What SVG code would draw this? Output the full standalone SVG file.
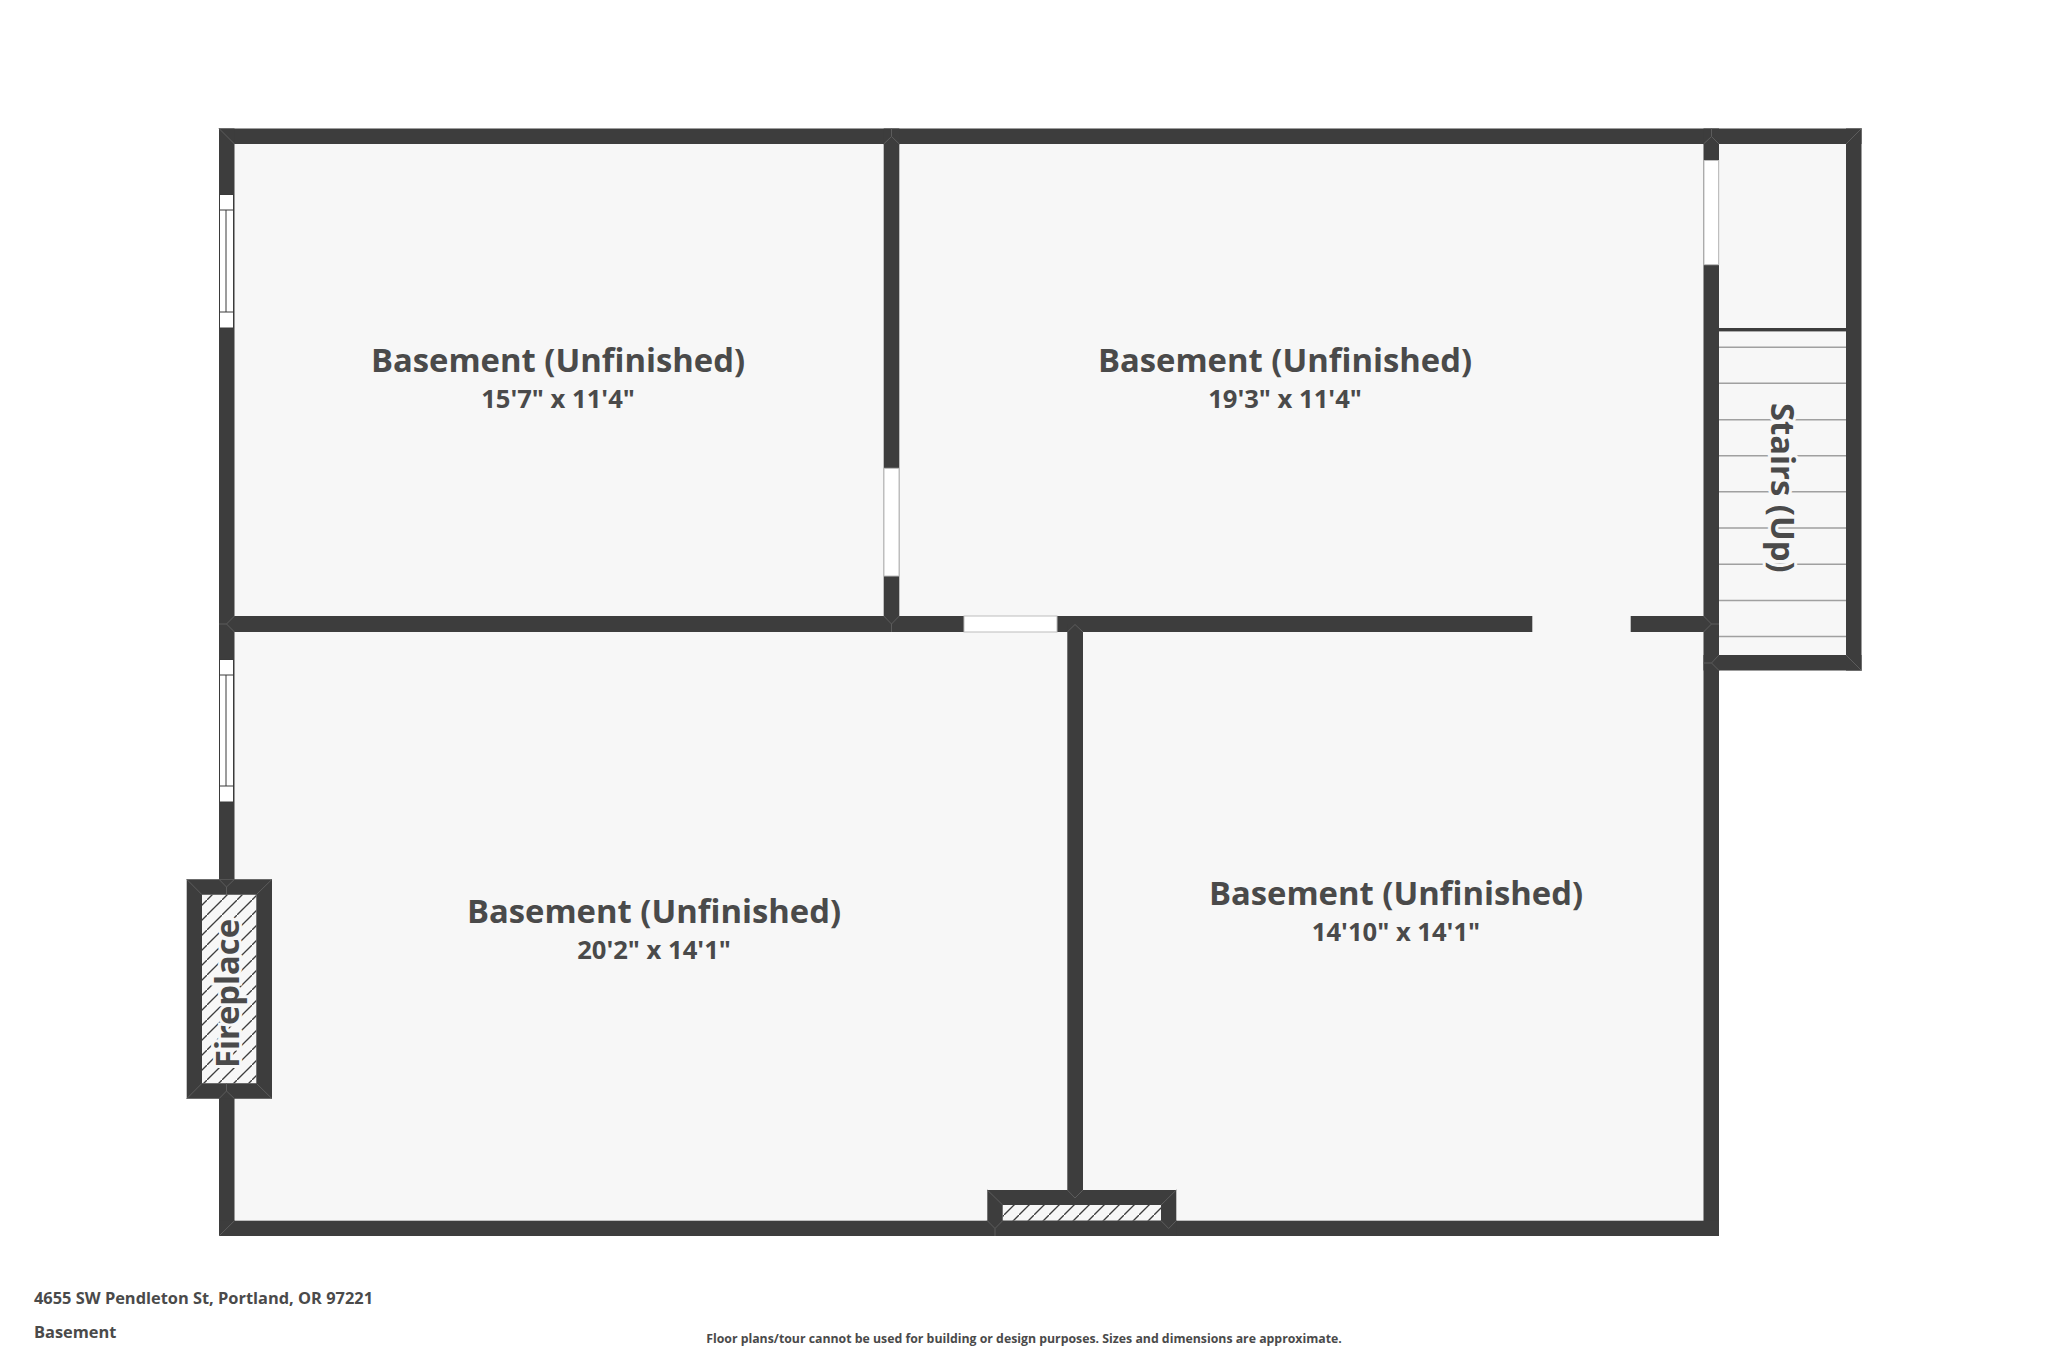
<svg xmlns="http://www.w3.org/2000/svg" width="2048" height="1365" viewBox="0 0 2048 1365">
<defs>
<pattern id="hatch" patternUnits="userSpaceOnUse" width="15" height="15" patternTransform="translate(-3 0)">
<rect width="15" height="15" fill="#f7f7f7"/>
<path d="M-2 17L17 -2" stroke="#3d3d3d" stroke-width="1.3"/>
</pattern>
<pattern id="hatch2" patternUnits="userSpaceOnUse" width="15" height="15" patternTransform="translate(-1 0)">
<rect width="15" height="15" fill="#f7f7f7"/>
<path d="M-2 17L17 -2" stroke="#3d3d3d" stroke-width="1.3"/>
</pattern>
</defs>
<style>
.wall{fill:#3d3d3d}
.seam{fill:none;stroke:#5c5c5c;stroke-width:1}
.tread{stroke:#a0a0a0;stroke-width:1.4}
.glass{fill:#fff;stroke:#bdbdbd;stroke-width:1}
.frame{fill:#fff;stroke:#3a3a3a;stroke-width:1}
text{font-family:"Open Sans","Noto Sans","Liberation Sans",sans-serif;fill:#4a4a4a;font-weight:700}
.title{font-size:32.800px;text-anchor:middle;paint-order:stroke;stroke:#f7f7f7;stroke-width:6px}
.dim{font-size:25.600px;text-anchor:middle;paint-order:stroke;stroke:#f7f7f7;stroke-width:6px}
.foot{font-size:16.400px}
.note{font-size:12.300px;text-anchor:middle}
</style>
<rect width="2048" height="1365" fill="#fff"/>
<path id="floor" d="M234 144H1846V655H1719V1221H234Z" fill="#f7f7f7"/>
<rect x="202" y="894.700" width="54.300" height="188.600" fill="url(#hatch)"/>
<rect x="1002.700" y="1205" width="158.300" height="15.700" fill="url(#hatch2)"/>
<g id="treads">
<path class="tread" d="M1719 347.300H1846M1719 383.300H1846M1719 419.700H1846M1719 455.700H1846M1719 491.700H1846M1719 528H1846M1719 564.300H1846M1719 600.500H1846M1719 636.500H1846"/>
<rect x="1719" y="328" width="127" height="3.400" fill="#3d3d3d"/>
</g>
<g id="walls">
<rect class="wall" x="219" y="128.500" width="1642.500" height="15.500"/>
<rect class="wall" x="1846" y="128.500" width="15.500" height="542"/>
<rect class="wall" x="1703.500" y="655" width="158" height="15.500"/>
<rect class="wall" x="1703.500" y="128.500" width="15.500" height="1107.500"/>
<rect class="wall" x="219" y="128.500" width="15.500" height="751"/>
<rect class="wall" x="219" y="1098" width="15.500" height="138"/>
<rect class="wall" x="219" y="1220.700" width="1500" height="15.300"/>
<rect class="wall" x="883.700" y="128.500" width="15.600" height="503.500"/>
<rect class="wall" x="219" y="616" width="1313.300" height="16"/>
<rect class="wall" x="1630.700" y="616" width="88" height="16"/>
<rect class="wall" x="1067.300" y="624" width="15.700" height="570"/>
<path class="wall" d="M186.700 879.300H272V1098.700H186.700ZM202 894.700V1083.300H256.300V894.700Z" fill-rule="evenodd"/>
<path class="wall" d="M987.300 1190H1176.300V1236H987.300ZM1002.700 1205V1220.700H1161V1205Z" fill-rule="evenodd"/>
</g>
<g id="seams">
<path class="seam" d="M219 128.500L234.500 144M1861.500 128.500L1846 144M1861.500 670.500L1846 655"/>
<path class="seam" d="M891.500 128.500V136.500M891.500 136.500L883.700 144M891.500 136.500L899.300 144"/>
<path class="seam" d="M1711.500 128.500V136.500M1711.500 136.500L1703.500 144M1711.500 136.500L1719 144"/>
<path class="seam" d="M219 624H226.500M226.500 624L234.500 616M226.500 624L234.500 632"/>
<path class="seam" d="M1719 624H1711.500M1711.500 624L1703.500 616M1711.500 624L1703.500 632"/>
<path class="seam" d="M1703.500 663H1711.500M1711.500 663L1719 655M1711.500 663L1719 670.500"/>
<path class="seam" d="M891.500 632V624M891.500 624L883.700 616M891.500 624L899.300 616"/>
<path class="seam" d="M1075 624.500L1067.300 632M1075 624.500L1083 632"/>
<path class="seam" d="M219 1236L234.500 1220.700"/>
<path class="seam" d="M1067.300 1190L1075 1198L1083 1190"/>
<path class="seam" d="M987.300 1190L1002.700 1205M1176.300 1190L1161 1205M995 1236V1228.500L987.300 1220.700M995 1228.500L1002.700 1220.700M1168.700 1228.500L1161 1220.700M1168.700 1228.500L1176.300 1220.700"/>
<path class="seam" d="M186.700 879.300L202 894.700M272 879.300L256.300 894.700M186.700 1098.700L202 1083.300M272 1098.700L256.300 1083.300"/>
<path class="seam" d="M226.500 894.700V887L219 879.300M226.500 887L234.500 879.300M226.500 1083.300V1091L219 1098.700M226.500 1091L234.500 1098.700"/>
</g>
<g id="openings">
<rect x="964" y="616" width="93" height="16" class="glass"/>
<rect x="884" y="468.300" width="15" height="107.700" class="glass"/>
<rect x="1704" y="160.500" width="14.700" height="104.200" class="glass"/>
</g>
<g id="window-1">
<rect class="frame" x="219.500" y="194.500" width="14" height="133.500"/>
<path class="seam" style="stroke:#3a3a3a" d="M219.500 210H233.500M219.500 312H233.500M226 210V312"/>
</g>
<g id="window-2">
<rect class="frame" x="219.500" y="659.500" width="14" height="142.500"/>
<path class="seam" style="stroke:#3a3a3a" d="M219.500 675H233.500M219.500 786H233.500M226 675V786"/>
</g>
<g id="labels">
<text class="title" x="558" y="372">Basement (Unfinished)</text>
<text class="dim" x="558" y="408">15'7" x 11'4"</text>
<text class="title" x="1285" y="372">Basement (Unfinished)</text>
<text class="dim" x="1285" y="408">19'3" x 11'4"</text>
<text class="title" x="654" y="923">Basement (Unfinished)</text>
<text class="dim" x="654" y="959">20'2" x 14'1"</text>
<text class="title" x="1396" y="905">Basement (Unfinished)</text>
<text class="dim" x="1396" y="941">14'10" x 14'1"</text>
<text class="title" transform="translate(1771 403) rotate(90)" style="text-anchor:start">Stairs (Up)</text>
<text class="title" transform="translate(239 1068) rotate(-90)" style="text-anchor:start">Fireplace</text>
</g>
<g id="footer">
<text class="foot" x="34" y="1304">4655 SW Pendleton St, Portland, OR 97221</text>
<text class="foot" x="34" y="1338">Basement</text>
<text class="note" x="1024" y="1343">Floor plans/tour cannot be used for building or design purposes. Sizes and dimensions are approximate.</text>
</g>
</svg>
